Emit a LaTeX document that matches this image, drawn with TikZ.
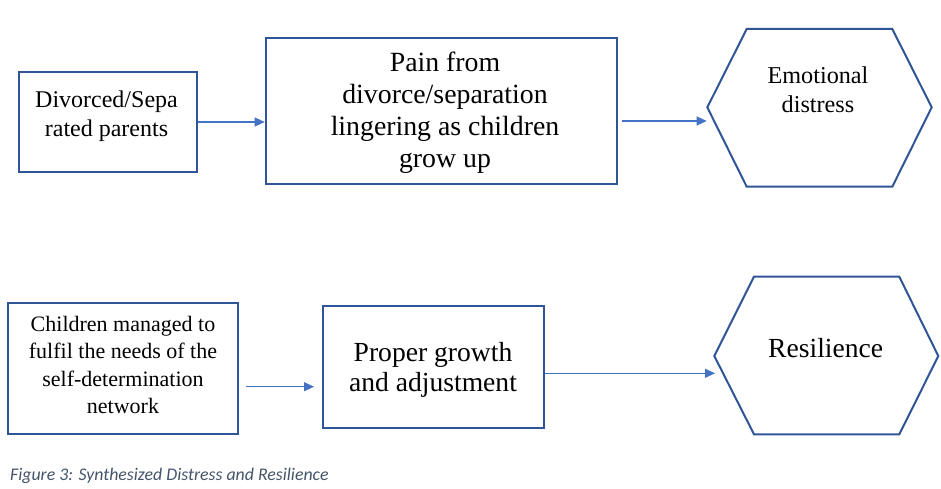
\documentclass[tikz,border=0pt]{standalone}
\usepackage{fontspec}
\setmainfont{Liberation Serif}
\newfontfamily\capfont{Carlito}
\usetikzlibrary{arrows.meta}
\definecolor{boxblue}{HTML}{2F5597}
\definecolor{arrblue}{HTML}{4472C4}
\definecolor{capgray}{HTML}{44546A}
\tikzset{
  box/.style={draw=boxblue, line width=2pt, rectangle, inner sep=0pt},
  hexa/.style={draw=boxblue, line width=2pt, line join=miter},
  conn/.style={draw=arrblue, line width=1.1pt, -{Triangle[length=10pt,width=9pt]}},
  lbl/.style={align=center, inner sep=0pt, anchor=base, text=black},
}
\begin{document}
\begin{tikzpicture}[x=1pt,y=-1pt]
\useasboundingbox (0,0) rectangle (941,489);
% top row
\node[box, minimum width=178pt, minimum height=100.6pt] (div) at (108,122) {};
\node[box, minimum width=351pt, minimum height=146.3pt] (pain) at (441.2,110.85) {};
\coordinate (e1) at (707.3,107.3);
\draw[hexa] (e1) -- (746.7,29) -- (892.3,29) -- (931.7,107.3) -- (892.3,186.7) -- (746.7,186.7) -- cycle;
% bottom row
\node[box, minimum width=230pt, minimum height=131.3pt] (chi) at (123.3,368.35) {};
\node[box, minimum width=221.3pt, minimum height=122pt] (pro) at (433.35,366.7) {};
\coordinate (r1) at (714.3,356);
\draw[hexa] (r1) -- (754,276.7) -- (899.3,276.7) -- (938.3,356) -- (899.3,434.3) -- (754,434.3) -- cycle;
% texts (anchored at the baseline of the last line)
\node[lbl, font=\fontsize{24}{29.4}\selectfont] (tdiv) at (106.5,136.7) {Divorced/Sepa\\rated parents};
\node[lbl, font=\fontsize{27.8}{31.9}\selectfont] (tpain) at (445,167.3) {Pain from\\divorce/separation\\lingering as children\\grow up};
\node[lbl, font=\fontsize{24.2}{29.4}\selectfont] (temo) at (818,112.7) {Emotional\\distress};
\node[lbl, font=\fontsize{22}{27.2}\selectfont] (tchi) at (123,413.3) {Children managed to\\fulfil the needs of the\\self-determination\\network};
\node[lbl, font=\fontsize{27.6}{30.7}\selectfont] (tpro) at (433,391.7) {Proper growth\\and adjustment};
\node[lbl, font=\fontsize{27.6}{30}\selectfont] (tres) at (825.7,357.3) {Resilience};
% connectors
\coordinate (a2s) at (621.7,121);
\coordinate (a2e) at (706.7,121);
\coordinate (a3s) at (246,386.7);
\coordinate (a3e) at (314,386.7);
\coordinate (a4e) at (715,373.3);
\draw[conn] (div.east) -- (div.east -| pain.west);
\draw[conn] (a2s) -- (a2e);
\draw[conn] (a3s) -- (a3e);
\draw[conn] (pro.east |- a4e) -- (a4e);
% caption
\node[anchor=base west, inner sep=0pt, text=capgray, font=\capfont\itshape\fontsize{17.8}{20}\selectfont] (cap) at (10,480) {Figure 3: Synthesized Distress and Resilience};
\end{tikzpicture}
\end{document}
